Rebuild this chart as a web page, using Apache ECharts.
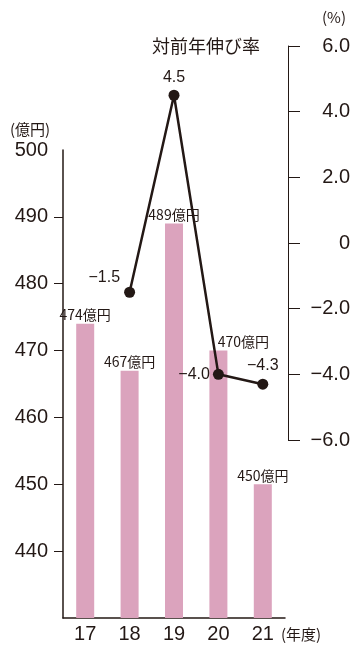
<!DOCTYPE html>
<html>
<head>
<meta charset="utf-8">
<script src="https://cdn.jsdelivr.net/npm/echarts@6/dist/echarts.min.js"></script>
<style>
  html, body { margin: 0; padding: 0; background: #fff; }
  #chart { width: 354px; height: 646px; }
</style>
</head>
<body>
<div id="chart"></div>
<script>
// 年度別の売上（億円）と対前年伸び率（%）
const years = ['17', '18', '19', '20', '21'];
const sales = [474, 467, 489, 470, 450];
const growth = [null, -1.5, 4.5, -4.0, -4.3];
const salesTickValues = [440, 450, 460, 470, 480, 490];
const salesLabelValues = [440, 450, 460, 470, 480, 490, 500];

const INK = '#231815';
const PINK = '#dba3bd';
const LATIN = '"Liberation Sans", Arial, sans-serif';
const CJK = '"Noto Sans CJK JP", "Liberation Sans", sans-serif';

function signed(v) {
  if (v === 0) return '0';
  return (v < 0 ? '−' : '') + Math.abs(v).toFixed(1);
}

// 20年度の棒ラベルは折れ線と重ならないよう右へずらす
const barData = sales.map((v, i) => i === 3
  ? { value: v, label: { offset: [25, 0] } }
  : v);

// 折れ線ラベルの置き方
const lineLabelPlace = [
  null,
  { position: 'left', distance: 4, offset: [0, -15] },
  { position: 'top', distance: 4 },
  { position: 'left', distance: 3 },
  { position: 'top', distance: 5 }
];
const lineData = growth.map((v, i) => v === null ? null
  : { value: v, label: lineLabelPlace[i] });

const chart = echarts.init(document.getElementById('chart'), null, { renderer: 'canvas' });

chart.setOption({
  animation: false,
  backgroundColor: '#fff',
  grid: [
    { left: 63, right: 69, top: 150, bottom: 28 },
    { left: 63, right: 69, top: 46, bottom: 206 }
  ],
  xAxis: [
    {
      type: 'category', gridIndex: 0, data: years,
      axisLine: { show: true, lineStyle: { color: INK, width: 1.5 } },
      axisTick: { show: false },
      axisLabel: { color: INK, fontFamily: LATIN, fontSize: 20, margin: 6 }
    },
    {
      type: 'category', gridIndex: 1, data: years, show: false
    }
  ],
  yAxis: [
    {
      type: 'value', gridIndex: 0, min: 430, max: 500, interval: 10,
      splitLine: { show: false },
      axisLine: { show: true, lineStyle: { color: INK, width: 1.5 } },
      axisTick: { show: true, length: 9, customValues: salesTickValues,
        lineStyle: { color: INK, width: 1 } },
      axisLabel: { color: INK, fontFamily: LATIN, fontSize: 20, margin: 15,
        customValues: salesLabelValues }
    },
    {
      type: 'value', gridIndex: 1, position: 'right', offset: 3,
      min: -6, max: 6, interval: 2,
      splitLine: { show: false },
      axisLine: { show: true, lineStyle: { color: INK, width: 1 } },
      axisTick: { show: true, length: 12, lineStyle: { color: INK, width: 1 } },
      axisLabel: { color: INK, fontFamily: LATIN, fontSize: 20, margin: 62,
        align: 'right', formatter: signed }
    }
  ],
  series: [
    {
      type: 'bar', xAxisIndex: 0, yAxisIndex: 0,
      data: barData, barWidth: 18,
      itemStyle: { color: PINK },
      label: {
        show: true, position: 'top', distance: 2,
        color: INK, fontFamily: CJK, fontSize: 14,
        formatter: p => p.value + '億円'
      }
    },
    {
      type: 'line', xAxisIndex: 1, yAxisIndex: 1,
      data: lineData, connectNulls: false,
      symbol: 'circle', symbolSize: 11,
      lineStyle: { color: INK, width: 2.5 },
      itemStyle: { color: INK },
      label: {
        show: true, color: INK, fontFamily: LATIN, fontSize: 16,
        formatter: p => signed(p.value)
      },
      z: 5
    }
  ],
  graphic: [
    { type: 'text', left: 152, top: 37,
      style: { text: '対前年伸び率', fill: INK, font: '18px ' + CJK } },
    { type: 'text', left: 10, top: 122,
      style: { text: '(億円)', fill: INK, font: '15px ' + CJK } },
    { type: 'text', left: 322, top: 10,
      style: { text: '(%)', fill: INK, font: '15px ' + CJK } },
    { type: 'text', left: 281, top: 627,
      style: { text: '(年度)', fill: INK, font: '15px ' + CJK } }
  ]
});
</script>
</body>
</html>
